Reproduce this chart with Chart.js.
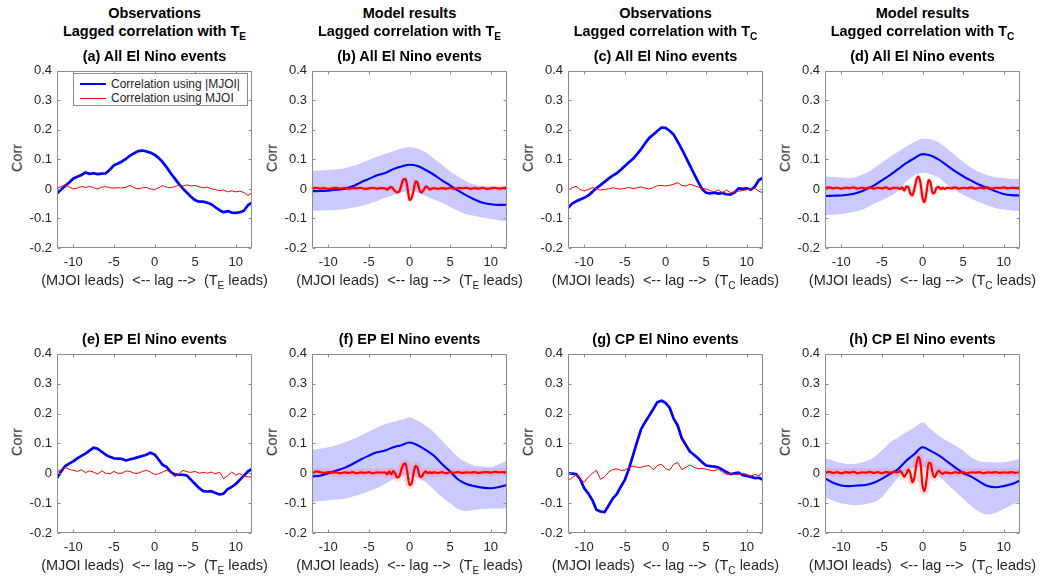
<!DOCTYPE html>
<html>
<head>
<meta charset="utf-8">
<script src="https://cdn.jsdelivr.net/npm/chart.js@4.4.0/dist/chart.umd.min.js"></script>
<style>
    body { margin: 0; background: #fff; }
    #fig { position: relative; width: 1041px; height: 580px; overflow: hidden;
           font-family: "Liberation Sans", Arial, sans-serif; color: #262626; }
    #fig canvas { position: absolute; }
    .ttl { position: absolute; transform: translate(-50%, -50%); white-space: pre;
           font-weight: bold; font-size: 14.5px; color: #000; line-height: 1; }
    .xl { position: absolute; transform: translate(-50%, -50%); white-space: pre;
          font-size: 14.5px; line-height: 1; }
    .yl { position: absolute; transform: translate(-50%, -50%) rotate(-90deg);
          font-size: 14.5px; line-height: 1; }
    sub { font-size: 70%; vertical-align: -4px; line-height: 0; }
    #legend { position: absolute; left: 73px; top: 73px; width: 175px; height: 33px;
              box-sizing: border-box; border: 1px solid #8c8c8c; background: #fff;
              font-size: 12px; z-index: 2; }
    .li { position: absolute; left: 6px; height: 14px; white-space: pre; }
    .li span.ln { position: absolute; left: 0; top: 50%; width: 26px; }
    .li span.tx { position: absolute; left: 31px; top: 0; line-height: 14px; }
</style>
</head>
<body>
<div id="fig"></div>
<script>
// ---- data ----
const lagTicks = [-10, -5, 0, 5, 10];
const corrTicks = [-0.2, -0.1, 0, 0.1, 0.2, 0.3, 0.4];
const legendLabels = ['Correlation using |MJOI|', 'Correlation using MJOI'];

// lag grids
const lagHalf = [-12, -11.5, -11, -10.5, -10, -9.5, -9, -8.5, -8, -7.5, -7, -6.5, -6, -5.5, -5, -4.5, -4, -3.5,
    -3, -2.5, -2, -1.5, -1, -0.5, 0, 0.5, 1, 1.5, 2, 2.5, 3, 3.5, 4, 4.5, 5, 5.5, 6, 6.5, 7, 7.5, 8, 8.5,
    9, 9.5, 10, 10.5, 11, 11.5, 12];
const lagOne = [-12, -11, -10, -9, -8, -7, -6, -5, -4, -3, -2, -1, 0, 1, 2, 3, 4, 5, 6, 7, 8, 9, 10, 11, 12];
const lagWave = [-12, -11.5, -11, -10.5, -10, -9.5, -9, -8.5, -8, -7.5, -7, -6.5, -6, -5.5, -5, -4.5, -4, -3.5,
    -3, -2.75, -2.5, -2.25, -2, -1.75, -1.5, -1.25, -1, -0.75, -0.5, -0.25, 0, 0.25, 0.5, 0.75, 1, 1.25,
    1.5, 1.75, 2, 2.25, 2.5, 2.75, 3,
    3.5, 4, 4.5, 5, 5.5, 6, 6.5, 7, 7.5, 8, 8.5, 9, 9.5, 10, 10.5, 11, 11.5, 12];

// observations (lagHalf)
const blueA = [-0.016, -0.002, 0.01, 0.022, 0.035, 0.041, 0.047, 0.056, 0.051, 0.053, 0.05, 0.052, 0.053, 0.065,
    0.08, 0.086, 0.093, 0.102, 0.113, 0.121, 0.128, 0.13, 0.127, 0.123, 0.116, 0.105, 0.091, 0.073, 0.053,
    0.035, 0.017, 0.001, -0.013, -0.027, -0.038, -0.043, -0.043, -0.047, -0.052, -0.062, -0.072, -0.079,
    -0.075, -0.08, -0.081, -0.079, -0.074, -0.055, -0.046];
const redA = [0.002, 0.008, 0.015, 0.006, 0.0, 0.003, 0.008, 0.005, 0.009, 0.004, 0.0, 0.006, 0.008, 0.004, 0.003,
    0.004, 0.003, 0.006, 0.012, 0.004, 0.0, 0.004, 0.005, 0.0, -0.003, 0.004, 0.011, 0.006, 0.004, 0.008,
    0.012, 0.01, 0.014, 0.01, 0.012, 0.007, 0.004, 0.006, 0.0, -0.002, -0.006, -0.004, -0.01, -0.006, -0.01,
    -0.008, -0.012, -0.022, -0.012];
const blueC = [-0.065, -0.05, -0.042, -0.036, -0.03, -0.022, -0.01, 0.003, 0.013, 0.024, 0.035, 0.045, 0.053,
    0.065, 0.078, 0.09, 0.102, 0.118, 0.135, 0.155, 0.173, 0.184, 0.196, 0.208, 0.207, 0.197, 0.184, 0.16,
    0.135, 0.108, 0.08, 0.052, 0.025, 0.0, -0.013, -0.015, -0.013, -0.016, -0.014, -0.018, -0.019, -0.012,
    0.002, 0.0, 0.002, -0.003, 0.008, 0.03, 0.037];
const redC = [-0.005, 0.004, 0.009, -0.002, -0.007, -0.002, 0.004, 0.001, -0.004, -0.001, 0.0, 0.004, 0.002,
    -0.001, 0.002, 0.005, 0.001, 0.004, 0.007, 0.002, 0.0, 0.004, 0.011, 0.012, 0.01, 0.012, 0.016, 0.021,
    0.012, 0.01, 0.016, 0.012, 0.006, 0.002, 0.0, -0.006, -0.01, -0.004, -0.012, -0.004, -0.012, -0.01,
    -0.008, -0.005, -0.003, 0.0, 0.002, -0.008, -0.013];
const blueE = [-0.016, 0.006, 0.024, 0.032, 0.04, 0.05, 0.058, 0.066, 0.076, 0.086, 0.082, 0.072, 0.062, 0.055,
    0.05, 0.049, 0.048, 0.043, 0.047, 0.05, 0.054, 0.058, 0.062, 0.069, 0.063, 0.046, 0.028, 0.021, 0.004,
    -0.004, -0.005, -0.005, -0.008, -0.022, -0.036, -0.05, -0.06, -0.061, -0.06, -0.066, -0.071, -0.068,
    -0.053, -0.046, -0.036, -0.022, -0.008, 0.006, 0.015];
const redE = [0.004, 0.012, 0.02, 0.013, 0.01, 0.006, 0.012, 0.002, 0.008, 0.004, -0.003, 0.008, 0.0, -0.002,
    0.006, 0.0, 0.0, 0.008, 0.006, 0.0, 0.0, 0.006, 0.01, 0.004, -0.004, -0.002, 0.004, 0.011, 0.002, -0.012,
    -0.002, 0.01, 0.005, 0.003, 0.006, 0.0, 0.003, 0.0, 0.004, -0.002, 0.004, -0.018, -0.008, 0.004, -0.006,
    -0.001, -0.01, -0.012, -0.012];
const blueG = [0.0, -0.001, -0.003, -0.02, -0.05, -0.068, -0.09, -0.122, -0.128, -0.13, -0.108, -0.085, -0.07,
    -0.045, -0.022, 0.015, 0.06, 0.105, 0.148, 0.172, 0.193, 0.215, 0.238, 0.243, 0.236, 0.22, 0.183, 0.16,
    0.117, 0.095, 0.073, 0.062, 0.05, 0.037, 0.026, 0.024, 0.022, 0.02, 0.012, 0.004, -0.003, 0.0, 0.002,
    -0.006, -0.009, -0.012, -0.016, -0.015, -0.022];
const redG = [-0.025, -0.015, -0.005, -0.02, -0.03, -0.012, 0.0, 0.01, -0.02, -0.012, 0.004, 0.012, 0.015, 0.01,
    0.01, 0.02, 0.024, 0.02, 0.02, 0.024, 0.026, 0.012, 0.026, 0.03, 0.016, 0.01, 0.03, 0.036, 0.012, 0.02,
    0.028, 0.02, 0.015, 0.016, 0.014, 0.01, 0.008, 0.014, 0.004, -0.004, 0.0, -0.004, -0.004, 0.0, -0.003,
    -0.01, -0.004, -0.008, 0.005];

// model results: ensemble mean (lagOne) with spread band, and MJOI correlation (lagWave)
const blueB = [-0.008, -0.007, -0.006, -0.003, 0.001, 0.009, 0.022, 0.034, 0.046, 0.054, 0.067, 0.076, 0.082,
    0.078, 0.064, 0.048, 0.029, 0.012, -0.006, -0.022, -0.036, -0.047, -0.052, -0.054, -0.054];
const upperB = [0.061, 0.062, 0.064, 0.066, 0.07, 0.078, 0.087, 0.098, 0.109, 0.118, 0.128, 0.137, 0.142, 0.137,
    0.123, 0.103, 0.081, 0.059, 0.042, 0.026, 0.014, 0.009, 0.008, 0.006, 0.008];
const lowerB = [-0.074, -0.073, -0.072, -0.071, -0.069, -0.064, -0.058, -0.05, -0.041, -0.03, -0.021, -0.012,
    -0.006, -0.012, -0.024, -0.036, -0.047, -0.061, -0.074, -0.086, -0.091, -0.097, -0.102, -0.106, -0.11];
const redB = [0.002, 0.004, 0.001, 0.003, 0.0, 0.002, 0.004, 0.001, 0.003, 0.0, 0.003, 0.002, 0.004, 0.0, 0.002,
    0.004, 0.001, 0.003,
    0.002, -0.003, 0.004, 0.006, 0.0, -0.008, -0.012, -0.008, 0.012, 0.033, 0.034, 0.005, -0.038, -0.032,
    -0.005, 0.026, 0.02, -0.005, -0.012, -0.003, 0.008, 0.005, -0.002, 0.001, 0.003,
    0.0, 0.003, 0.001, 0.004, 0.0, 0.003, 0.002, 0.004, 0.0, 0.003, 0.001, 0.004, 0.0, 0.002, 0.004, 0.001,
    0.003, 0.004];

const blueD = [-0.024, -0.023, -0.022, -0.019, -0.013, -0.002, 0.011, 0.029, 0.047, 0.067, 0.087, 0.104, 0.118,
    0.113, 0.099, 0.08, 0.06, 0.043, 0.028, 0.014, 0.003, -0.008, -0.017, -0.021, -0.022];
const upperD = [0.042, 0.04, 0.039, 0.036, 0.042, 0.053, 0.07, 0.089, 0.109, 0.126, 0.144, 0.159, 0.17, 0.168,
    0.157, 0.137, 0.114, 0.092, 0.072, 0.057, 0.046, 0.039, 0.037, 0.034, 0.034];
const lowerD = [-0.088, -0.087, -0.085, -0.081, -0.075, -0.065, -0.05, -0.038, -0.025, -0.005, 0.025, 0.045,
    0.055, 0.05, 0.038, 0.015, -0.005, -0.02, -0.033, -0.045, -0.055, -0.065, -0.07, -0.073, -0.075];
const redD = [0.003, 0.005, 0.002, 0.004, 0.001, 0.004, 0.003, 0.005, 0.001, 0.004, 0.002, 0.005, 0.001, 0.004,
    0.002, 0.005, 0.0, 0.004,
    0.003, 0.0, 0.005, -0.006, 0.008, 0.006, -0.015, -0.022, 0.0, 0.03, 0.042, 0.02, -0.03, -0.045, -0.01,
    0.03, 0.02, -0.015, -0.012, 0.005, 0.006, 0.0, 0.004, 0.0, 0.004,
    0.002, 0.005, 0.001, 0.004, 0.002, 0.005, 0.001, 0.004, 0.002, 0.005, 0.001, 0.004, 0.003, 0.005, 0.002,
    0.004, 0.003, 0.004];

const blueF = [-0.011, -0.008, 0.0, 0.009, 0.018, 0.031, 0.046, 0.059, 0.07, 0.076, 0.087, 0.094, 0.103, 0.094,
    0.078, 0.059, 0.031, 0.006, -0.021, -0.036, -0.043, -0.048, -0.05, -0.046, -0.039];
const upperF = [0.078, 0.082, 0.087, 0.095, 0.103, 0.114, 0.126, 0.14, 0.153, 0.164, 0.172, 0.179, 0.187, 0.176,
    0.159, 0.137, 0.109, 0.081, 0.053, 0.037, 0.026, 0.023, 0.02, 0.031, 0.042];
const lowerF = [-0.096, -0.093, -0.09, -0.088, -0.085, -0.078, -0.07, -0.06, -0.05, -0.035, -0.02, -0.01, -0.005,
    -0.015, -0.03, -0.055, -0.08, -0.1, -0.12, -0.126, -0.122, -0.12, -0.118, -0.118, -0.118];
const redF = [-0.002, 0.006, 0.004, 0.001, 0.004, 0.002, 0.003, 0.0, 0.003, 0.001, 0.004, 0.0, 0.003, 0.001,
    0.004, 0.0, 0.003, 0.002,
    0.003, -0.004, 0.006, -0.004, 0.008, -0.002, -0.015, -0.01, 0.012, 0.03, 0.033, 0.0, -0.04, -0.035, 0.0,
    0.025, 0.018, -0.01, -0.012, 0.0, 0.006, 0.0, 0.004, 0.0, 0.004,
    0.001, 0.004, 0.0, 0.003, 0.002, 0.004, 0.001, 0.003, 0.002, 0.004, 0.001, 0.003, 0.004, 0.002, 0.005,
    0.003, 0.004, 0.003];

const blueH = [-0.017, -0.032, -0.041, -0.043, -0.041, -0.039, -0.032, -0.019, -0.002, 0.014, 0.042, 0.064,
    0.087, 0.075, 0.06, 0.04, 0.02, 0.001, -0.011, -0.028, -0.043, -0.047, -0.043, -0.036, -0.024];
const upperH = [0.05, 0.042, 0.034, 0.031, 0.033, 0.04, 0.053, 0.076, 0.103, 0.12, 0.137, 0.153, 0.17, 0.148,
    0.126, 0.109, 0.094, 0.076, 0.053, 0.04, 0.037, 0.037, 0.037, 0.042, 0.048];
const lowerH = [-0.08, -0.092, -0.1, -0.105, -0.107, -0.103, -0.096, -0.08, -0.047, -0.014, 0.008, 0.02, 0.022,
    0.005, -0.01, -0.035, -0.06, -0.085, -0.11, -0.13, -0.138, -0.132, -0.12, -0.105, -0.095];
const redH = [0.002, 0.005, 0.001, 0.004, 0.0, 0.004, 0.002, 0.005, 0.0, 0.003, 0.002, 0.005, 0.001, 0.004, 0.0,
    0.004, 0.002, 0.005,
    0.003, 0.008, 0.0, -0.012, -0.002, 0.012, 0.0, -0.03, -0.015, 0.03, 0.055, 0.035, -0.04, -0.06, -0.02,
    0.035, 0.033, 0.0, -0.013, 0.0, 0.009, 0.002, -0.002, 0.003, 0.002,
    0.0, 0.004, 0.001, 0.004, 0.0, 0.003, 0.002, 0.004, 0.0, 0.003, 0.002, 0.004, 0.001, 0.003, 0.002, 0.004,
    0.001, 0.003];

// ---- layout ----
const colLeft = [57, 312, 568, 825];
const rowTop = [67, 350];
const plotW = 195;
const rowH = [181, 183];

const panels = [
    {tag: 'a', row: 0, col: 0, name: 'All', blue: blueA, red: redA},
    {tag: 'b', row: 0, col: 1, name: 'All', blue: blueB, upper: upperB, lower: lowerB, red: redB, halo: 4.5},
    {tag: 'c', row: 0, col: 2, name: 'All', blue: blueC, red: redC},
    {tag: 'd', row: 0, col: 3, name: 'All', blue: blueD, upper: upperD, lower: lowerD, red: redD, halo: 4.5},
    {tag: 'e', row: 1, col: 0, name: 'EP', blue: blueE, red: redE},
    {tag: 'f', row: 1, col: 1, name: 'EP', blue: blueF, upper: upperF, lower: lowerF, red: redF, halo: 8},
    {tag: 'g', row: 1, col: 2, name: 'CP', blue: blueG, red: redG},
    {tag: 'h', row: 1, col: 3, name: 'CP', blue: blueH, upper: upperH, lower: lowerH, red: redH, halo: 8},
];

const colHead = ['Observations', 'Model results', 'Observations', 'Model results'];
const colSub = ['E', 'E', 'C', 'C'];

const fig = document.getElementById('fig');

function addText(cls, html, x, y) {
    const d = document.createElement('div');
    d.className = cls;
    d.innerHTML = html;
    d.style.left = x + 'px';
    d.style.top = y + 'px';
    fig.appendChild(d);
}

function pts(xs, ys) {
    return xs.map((x, i) => ({x, y: ys[i]}));
}

// axes box with inward ticks on all four sides
const boxPlugin = {
    id: 'matlabBox',
    afterDatasetsDraw(chart) {
        const {ctx, chartArea: a, scales} = chart;
        const L = Math.round(a.left) + 0.5, R = Math.round(a.right) - 0.5;
        const T = Math.round(a.top) + 0.5, B = Math.round(a.bottom) - 0.5;
        ctx.save();
        ctx.strokeStyle = '#8c8c8c';
        ctx.lineWidth = 1;
        ctx.beginPath();
        ctx.rect(L, T, R - L, B - T);
        for (const v of lagTicks) {
            const px = Math.round(scales.x.getPixelForValue(v)) + 0.5;
            ctx.moveTo(px, B); ctx.lineTo(px, B - 3);
            ctx.moveTo(px, T); ctx.lineTo(px, T + 3);
        }
        for (const v of corrTicks) {
            const py = Math.round(scales.y.getPixelForValue(v)) + 0.5;
            ctx.moveTo(L, py); ctx.lineTo(L + 3, py);
            ctx.moveTo(R, py); ctx.lineTo(R - 3, py);
        }
        ctx.stroke();
        ctx.restore();
    }
};

const tickFont = {family: '"Liberation Sans", Arial, sans-serif', size: 13};

for (const p of panels) {
    const left = colLeft[p.col];
    const top = rowTop[p.row];
    const h = rowH[p.row];

    const canvas = document.createElement('canvas');
    canvas.width = plotW + 58;
    canvas.height = h + 33;
    canvas.style.left = (left - 48) + 'px';
    canvas.style.top = (top - 9) + 'px';
    canvas.style.width = canvas.width + 'px';
    canvas.style.height = canvas.height + 'px';
    fig.appendChild(canvas);

    const datasets = [];
    if (p.upper) {
        datasets.push({
            data: pts(lagOne, p.upper), fill: '+1', backgroundColor: 'rgb(202,202,255)',
            borderColor: 'rgba(0,0,0,0)', borderWidth: 0, order: 4, cubicInterpolationMode: 'monotone'
        });
        datasets.push({
            data: pts(lagOne, p.lower), fill: false,
            borderColor: 'rgba(0,0,0,0)', borderWidth: 0, order: 4, cubicInterpolationMode: 'monotone'
        });
        datasets.push({
            data: pts(lagWave, p.red), borderColor: 'rgba(255,90,90,0.2)', borderWidth: p.halo,
            order: 3, cubicInterpolationMode: 'monotone'
        });
        datasets.push({
            data: pts(lagOne, p.blue), borderColor: '#0000ff', borderWidth: 2.1,
            order: 1, cubicInterpolationMode: 'monotone'
        });
        datasets.push({
            data: pts(lagWave, p.red), borderColor: '#ff0000', borderWidth: 2.2,
            order: 0, cubicInterpolationMode: 'monotone'
        });
    } else {
        datasets.push({data: pts(lagHalf, p.blue), borderColor: '#0000ff', borderWidth: 2.7, order: 1});
        datasets.push({data: pts(lagHalf, p.red), borderColor: '#ff0000', borderWidth: 1, order: 0});
    }

    new Chart(canvas, {
        type: 'line',
        data: {datasets},
        options: {
            responsive: false,
            animation: false,
            devicePixelRatio: 1,
            events: [],
            layout: {padding: {left: 0, right: 10, top: 9, bottom: 0}},
            elements: {point: {radius: 0}, line: {borderJoinStyle: 'round', borderCapStyle: 'round'}},
            plugins: {legend: {display: false}, tooltip: {enabled: false}},
            scales: {
                x: {
                    type: 'linear', min: -12, max: 12,
                    grid: {display: false, drawTicks: false},
                    border: {display: false},
                    afterBuildTicks: s => { s.ticks = lagTicks.map(v => ({value: v})); },
                    afterFit: s => { s.height = 24; },
                    ticks: {font: tickFont, color: '#262626', padding: 7, autoSkip: false, maxRotation: 0}
                },
                y: {
                    type: 'linear', min: -0.2, max: 0.4,
                    grid: {display: false, drawTicks: false},
                    border: {display: false},
                    afterBuildTicks: s => { s.ticks = corrTicks.map(v => ({value: v})); },
                    afterFit: s => { s.width = 48; },
                    ticks: {
                        font: tickFont, color: '#262626', padding: 5, autoSkip: false,
                        callback: v => String(Math.round(v * 10) / 10)
                    }
                }
            }
        },
        plugins: [boxPlugin]
    });

    const cx = left + plotW / 2;
    const sub = colSub[p.col];
    if (p.row === 0) {
        addText('ttl', colHead[p.col], cx, 13);
        addText('ttl', 'Lagged correlation with T<sub>' + sub + '</sub>', cx, 31);
    }
    addText('ttl', '(' + p.tag + ') ' + p.name + ' El Nino events', cx, top - 11);
    addText('xl', '(MJOI leads)  &lt;-- lag --&gt;  (T<sub>' + sub + '</sub> leads)', cx, top + h + 32);
    addText('yl', 'Corr', left - 40, top + h / 2);
}

// legend of panel (a)
const legend = document.createElement('div');
legend.id = 'legend';
const legendStyles = [{color: '#0000ff', width: 2.7, y: 3}, {color: '#ff0000', width: 1, y: 17}];
legendLabels.forEach((label, i) => {
    const s = legendStyles[i];
    const item = document.createElement('div');
    item.className = 'li';
    item.style.top = s.y + 'px';
    item.innerHTML = '<span class="ln" style="border-top:' + s.width + 'px solid ' + s.color +
        ';margin-top:-' + (s.width / 2) + 'px"></span><span class="tx">' + label + '</span>';
    legend.appendChild(item);
});
fig.appendChild(legend);
</script>
</body>
</html>
